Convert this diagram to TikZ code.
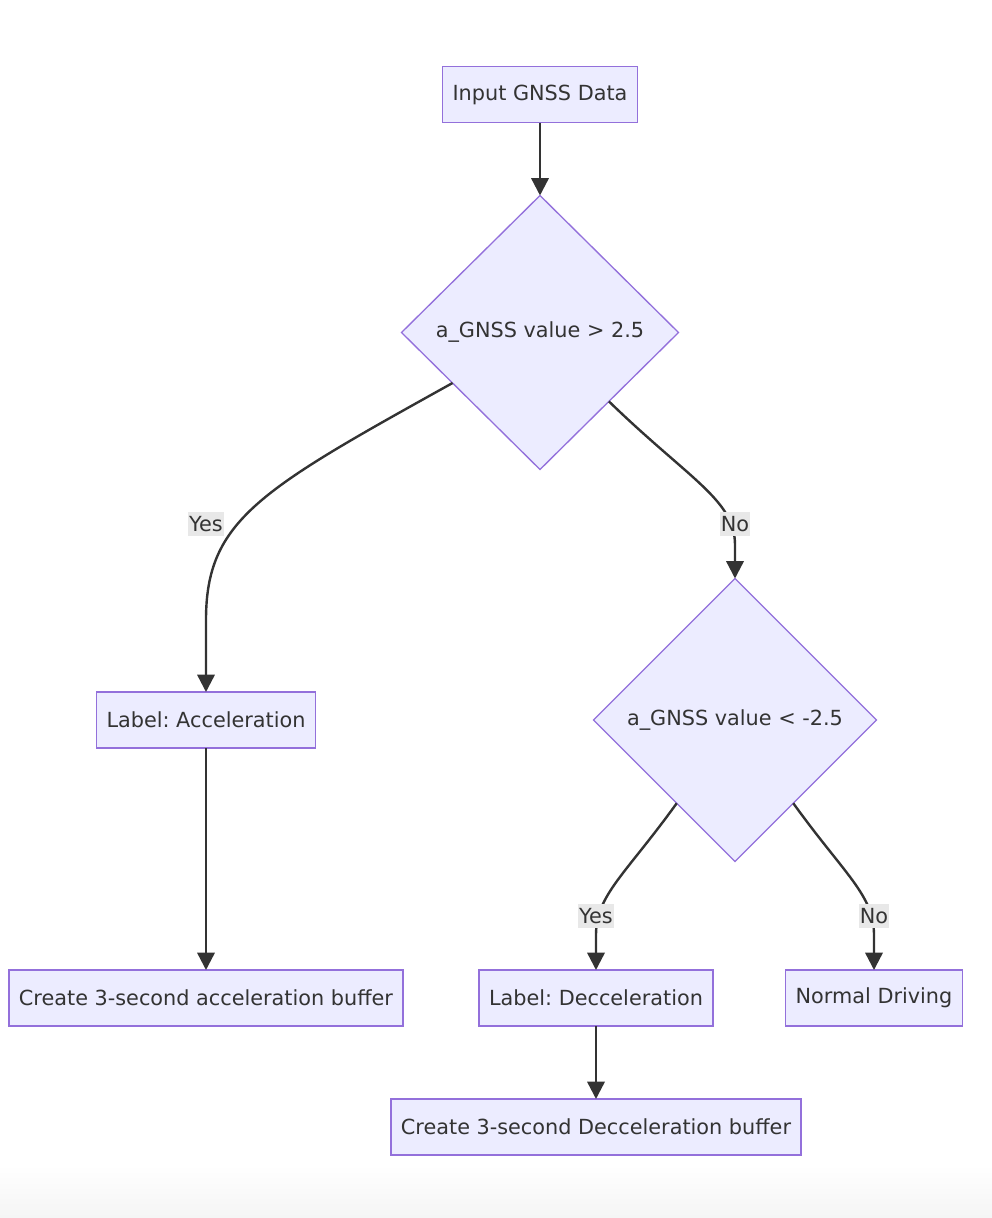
\documentclass[tikz,border=0pt]{standalone}
\usepackage{fontspec}
\setmainfont{DejaVu Sans}
\usetikzlibrary{arrows.meta,positioning,shapes.geometric}
\definecolor{NodeFill}{HTML}{ECECFF}
\definecolor{NodeLine}{HTML}{9370DB}
\definecolor{InkGray}{HTML}{333333}
\definecolor{TagGray}{HTML}{E8E8E8}
\frenchspacing
\begin{document}
\begin{tikzpicture}[
  x=0.75pt,y=-0.75pt,
  every node/.style={font=\fontsize{15.6}{18}\selectfont,text=InkGray,align=center,outer sep=0pt},
  box/.style={draw=NodeLine,fill=NodeFill,line width=1pt,inner xsep=7.5pt,minimum height=42pt},
  choice/.style={diamond,draw=NodeLine,fill=NodeFill,line width=1pt,inner sep=0pt},
  tag/.style={fill=TagGray,inner xsep=1pt,inner ysep=0pt,minimum height=18pt},
  arrow/.style={-{Triangle[length=13pt,width=13pt]},line width=1.8pt,color=InkGray}
]
\useasboundingbox (0,0) rectangle (992,1218);
\shade[top color=white,bottom color=black!4] (0,1165) rectangle (992,1218);
\node[box] (input) at (540,94.5) {Input GNSS Data};
\node[choice,minimum width=207.75pt,minimum height=205.5pt,below=54.75pt of input] (gt) {a\_GNSS value > 2.5};
\node[choice,minimum width=212.25pt,minimum height=212.25pt] (lt) at (735,720) {a\_GNSS value < -2.5};
\node[box] (acc) at (206,720) {Label: Acceleration};
\node[box,below=166.5pt of acc] (accbuf) {Create 3-second acceleration buffer};
\node[box] (dec) at (596,998) {Label: Decceleration};
\node[box] (normal) at (874,998) {Normal Driving};
\node[box,below=54.75pt of dec] (decbuf) {Create 3-second Decceleration buffer};
\draw[arrow] (input) -- (gt);
\draw[arrow] (gt.210) .. controls (260,490) and (206,520) .. (206,620) -- (acc);
\draw[arrow] (gt.-45) .. controls (690,480) and (735,500) .. (735,545) -- (lt);
\draw[arrow] (lt.235) .. controls (625,875) and (596,895) .. (596,935) -- (dec);
\draw[arrow] (lt.-55) .. controls (845,875) and (874,895) .. (874,935) -- (normal);
\draw[arrow] (acc) -- (accbuf);
\draw[arrow] (dec) -- (decbuf);
\node[tag] (yesacc) at (206,524) {Yes};
\node[tag] (nogt) at (735,524) {No};
\node[tag] (yesdec) at (596,916) {Yes};
\node[tag] (nolt) at (874,916) {No};
\end{tikzpicture}
\end{document}
